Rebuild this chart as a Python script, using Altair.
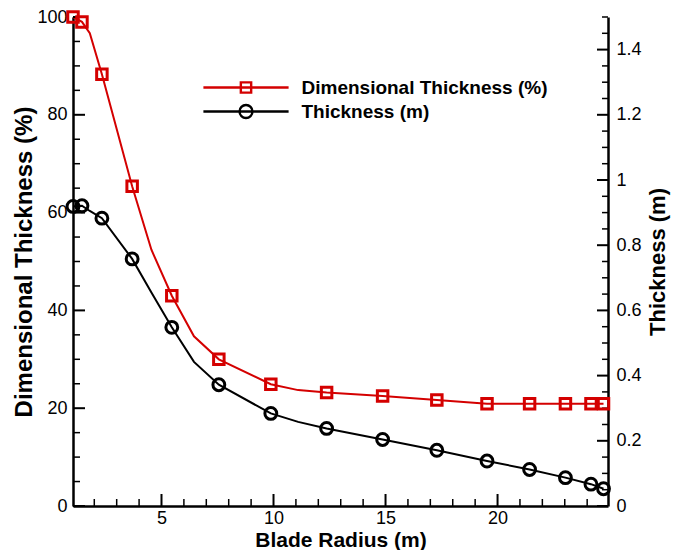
import altair as alt
import pandas as pd

# ---- data ----
series_names = ["Dimensional Thickness (%)", "Thickness (m)"]

radius_marks = [1.05, 1.45, 2.34, 3.69, 5.46, 7.56, 9.88, 12.37, 14.87, 17.29, 19.53, 21.43, 23.03, 24.17, 24.73]
pct_marks = [100.0, 99.0, 88.3, 65.4, 43.0, 30.0, 24.9, 23.2, 22.5, 21.7, 20.9, 20.9, 20.9, 20.9, 20.9]
thick_marks = [0.919, 0.921, 0.883, 0.758, 0.548, 0.372, 0.284, 0.238, 0.204, 0.171, 0.138, 0.112, 0.087, 0.067, 0.053]

radius_line = [1.05, 1.45, 1.8, 2.34, 3.69, 4.55, 5.46, 6.45, 7.56, 9.88, 11.1, 12.37, 14.87, 17.29, 19.53, 21.43, 23.03, 24.17, 24.73]
pct_line = [100.0, 99.0, 96.7, 88.3, 65.4, 52.4, 43.0, 34.7, 30.0, 24.9, 23.7, 23.2, 22.5, 21.7, 20.9, 20.9, 20.9, 20.9, 20.9]
thick_line = [0.919, 0.921, 0.905, 0.883, 0.758, 0.655, 0.548, 0.442, 0.372, 0.284, 0.258, 0.238, 0.204, 0.171, 0.138, 0.112, 0.087, 0.067, 0.053]

x_major = [5, 10, 15, 20]
x_minor = [2, 3, 4, 6, 7, 8, 9, 11, 12, 13, 14, 16, 17, 18, 19, 21, 22, 23, 24]
left_major = [0, 20, 40, 60, 80, 100]
left_minor = [5, 10, 15, 25, 30, 35, 45, 50, 55, 65, 70, 75, 85, 90, 95]
right_major = [0, 0.2, 0.4, 0.6, 0.8, 1.0, 1.2, 1.4]
right_minor = [0.05, 0.1, 0.15, 0.25, 0.3, 0.35, 0.45, 0.5, 0.55, 0.65, 0.7, 0.75,
               0.85, 0.9, 0.95, 1.05, 1.1, 1.15, 1.25, 1.3, 1.35, 1.45, 1.5]

# ---- styling ----
W, H = 535, 489
RED = "#d40000"
FONT = "Liberation Sans"

df_line = pd.DataFrame({"r": radius_line, "pct": pct_line, "thick": thick_line})
df_red = pd.DataFrame({"r": radius_marks, "v": pct_marks, "series": series_names[0]})
df_blk = pd.DataFrame({"r": radius_marks, "v": thick_marks, "series": series_names[1]})

xs = alt.Scale(domain=[1.05, 24.93], nice=False, zero=False)
ls = alt.Scale(domain=[0, 100], nice=False, zero=False)
rs = alt.Scale(domain=[0, 1.5], nice=False, zero=False)

common_axis = dict(ticks=False, grid=False, domainColor="black", domainWidth=2.5,
                   labelColor="black", labelFont=FONT, labelFontSize=18,
                   titleColor="black", titleFont=FONT, titleFontWeight="bold")

x_axis = alt.Axis(values=x_major, title="Blade Radius (m)", labelPadding=3,
                  titlePadding=2, titleFontSize=21, **common_axis)
left_axis = alt.Axis(orient="left", values=left_major, title="Dimensional Thickness (%)",
                     labelPadding=6, titlePadding=0, titleFontSize=24, **common_axis)
right_axis = alt.Axis(orient="right", values=right_major, title="Thickness (m)",
                      format="~g", labelPadding=8, titlePadding=28, titleAngle=270,
                      titleFontSize=22, **common_axis)

# legend symbols: line with marker on it
sq_path = "M-7.1,0L7.1,0M-0.86,-0.86L0.86,-0.86L0.86,0.86L-0.86,0.86Z"
ci_path = "M-7.1,0L7.1,0M-1.08,0A1.08,1.08,0,1,1,1.08,0A1.08,1.08,0,1,1,-1.08,0"

legend = alt.Legend(
    title=None, orient="none", legendX=163.5, legendY=61, padding=0,
    labelFont=FONT, labelFontSize=19, labelFontWeight="bold", labelColor="black",
    labelOffset=46, labelLimit=500, rowPadding=2, symbolSize=144,
    symbolStrokeWidth=2.4, symbolOpacity=1,
)

X = alt.X("r:Q", scale=xs, axis=x_axis)

# tick layers (inward ticks)
xmaj = alt.Chart(pd.DataFrame({"r": x_major})).mark_rule(color="black", strokeWidth=2).encode(
    x=X, y=alt.value(H), y2=alt.value(H - 12))
xmin = alt.Chart(pd.DataFrame({"r": x_minor})).mark_rule(color="black", strokeWidth=1.5).encode(
    x=X, y=alt.value(H), y2=alt.value(H - 7))
lmaj = alt.Chart(pd.DataFrame({"v": left_major})).mark_rule(color="black", strokeWidth=2).encode(
    y=alt.Y("v:Q", scale=ls, axis=None), x=alt.value(0), x2=alt.value(12))
lmin = alt.Chart(pd.DataFrame({"v": left_minor})).mark_rule(color="black", strokeWidth=1.5).encode(
    y=alt.Y("v:Q", scale=ls, axis=None), x=alt.value(0), x2=alt.value(7))
rmaj = alt.Chart(pd.DataFrame({"v": right_major})).mark_rule(color="black", strokeWidth=2).encode(
    y=alt.Y("v:Q", scale=rs, axis=None), x=alt.value(W), x2=alt.value(W - 11))
rmin = alt.Chart(pd.DataFrame({"v": right_minor})).mark_rule(color="black", strokeWidth=1.5).encode(
    y=alt.Y("v:Q", scale=rs, axis=None), x=alt.value(W), x2=alt.value(W - 6))

red_line = alt.Chart(df_line).mark_line(color=RED, strokeWidth=2).encode(
    x=X, y=alt.Y("pct:Q", scale=ls, axis=left_axis))
blk_line = alt.Chart(df_line).mark_line(color="black", strokeWidth=2).encode(
    x=X, y=alt.Y("thick:Q", scale=rs, axis=right_axis))

red_pts = alt.Chart(df_red).mark_point(shape="square", filled=False, size=110,
                                       strokeWidth=3, opacity=1, color=RED).encode(
    x=X, y=alt.Y("v:Q", scale=ls, axis=None))
blk_pts = alt.Chart(df_blk).mark_point(shape="circle", filled=False, size=140,
                                       strokeWidth=3, opacity=1, color="black").encode(
    x=X, y=alt.Y("v:Q", scale=rs, axis=None))

# legend-only layer (no marks drawn)
legend_layer = alt.Chart(pd.concat([df_red, df_blk])).transform_filter("false").mark_point(
    filled=False, size=144, strokeWidth=2.4, opacity=1).encode(
    x=X,
    y=alt.Y("v:Q", scale=ls, axis=None),
    color=alt.Color("series:N", scale=alt.Scale(domain=series_names, range=[RED, "black"]),
                    legend=legend),
    shape=alt.Shape("series:N", scale=alt.Scale(domain=series_names, range=[sq_path, ci_path]),
                    legend=legend),
)

chart = alt.layer(
    red_line, blk_line, xmaj, xmin, lmaj, lmin, rmaj, rmin, red_pts, blk_pts, legend_layer
).resolve_scale(y="independent").properties(
    width=W, height=H,
    autosize=alt.AutoSizeParams(type="none"),
    padding={"left": 65, "top": 9, "right": 66, "bottom": 44},
    background="white",
).configure_view(stroke=None)

chart.save("out.html", embed_options={"renderer": "svg", "actions": False})
